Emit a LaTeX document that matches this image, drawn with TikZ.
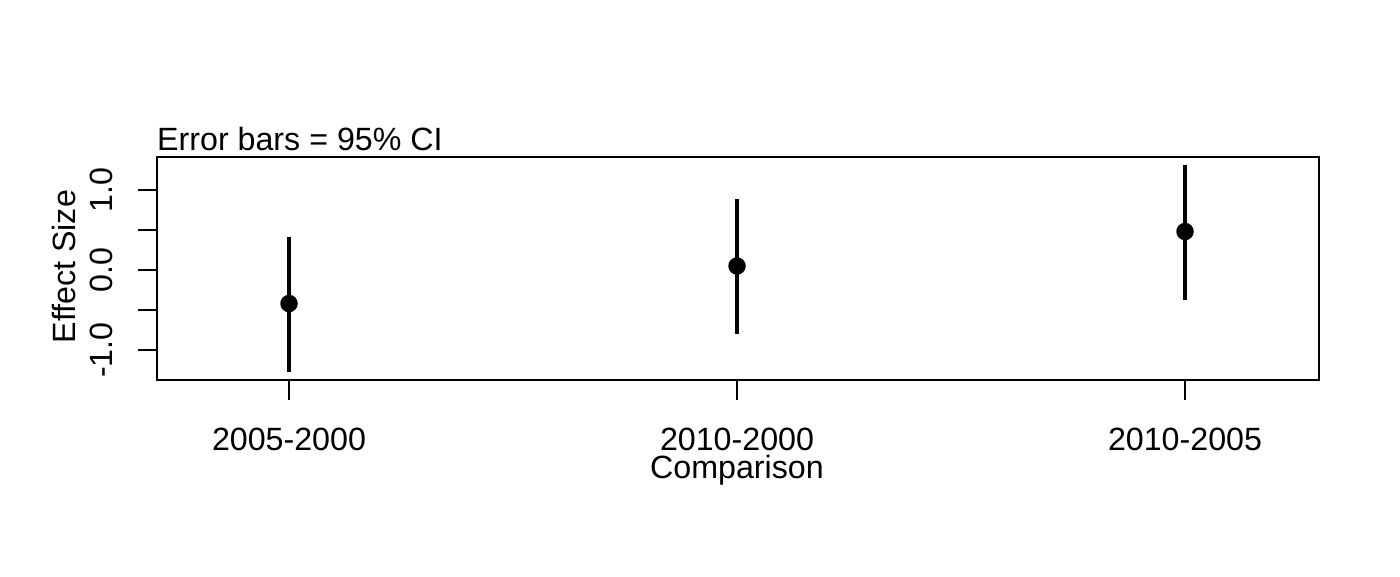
\documentclass[tikz,border=0pt]{standalone}
\usepackage{fontspec}
\setmainfont{Liberation Sans}
\begin{document}
\begin{tikzpicture}[x=1pt,y=-1pt,
  lbl/.style={inner sep=0pt,font=\fontsize{32.2}{38}\selectfont},
  frame/.style={line width=2pt},
  tick/.style={line width=2pt},
  cibar/.style={line width=4.2pt},
  dot/.style={circle,fill=black,inner sep=0pt,minimum size=17.5pt}]
\useasboundingbox (0,0) rectangle (1400,576);
% plot frame
\draw[frame] (157,157) rectangle (1319,380);
% title
\node[lbl,anchor=base west] (title) at (157,150) {Error bars = 95\% CI};
% y axis ticks
\foreach \yy in {190,230,270,310,350} \draw[tick] (138,\yy) -- (157,\yy);
\node[lbl,rotate=90,anchor=base] (y1) at (112,190) {1.0};
\node[lbl,rotate=90,anchor=base] (y0) at (112,270) {0.0};
\node[lbl,rotate=90,anchor=base] (ym1) at (112,350) {-1.0};
\node[lbl,rotate=90,anchor=base] (ylab) at (75,266.7) {Effect Size};
% x axis ticks
\foreach \xx in {289,737,1185} \draw[tick] (\xx,380) -- (\xx,400);
\node[lbl,anchor=base] (x1) at (289,450) {2005-2000};
\node[lbl,anchor=base] (x2) at (737,450) {2010-2000};
\node[lbl,anchor=base] (x3) at (1185,450) {2010-2005};
\node[lbl,anchor=base] (xlab) at (737,478) {Comparison};
% CI bars
\coordinate (t1) at (289,236.5); \coordinate (b1) at (289,372);
\coordinate (t2) at (737,199); \coordinate (b2) at (737,334);
\coordinate (t3) at (1185,164.5); \coordinate (b3) at (1185,300);
\draw[cibar] (t1) -- (b1);
\draw[cibar] (t2) -- (b2);
\draw[cibar] (t3) -- (b3);
\node[dot] (p1) at (289,303.5) {};
\node[dot] (p2) at (737,266) {};
\node[dot] (p3) at (1185,231.5) {};
\end{tikzpicture}
\end{document}
